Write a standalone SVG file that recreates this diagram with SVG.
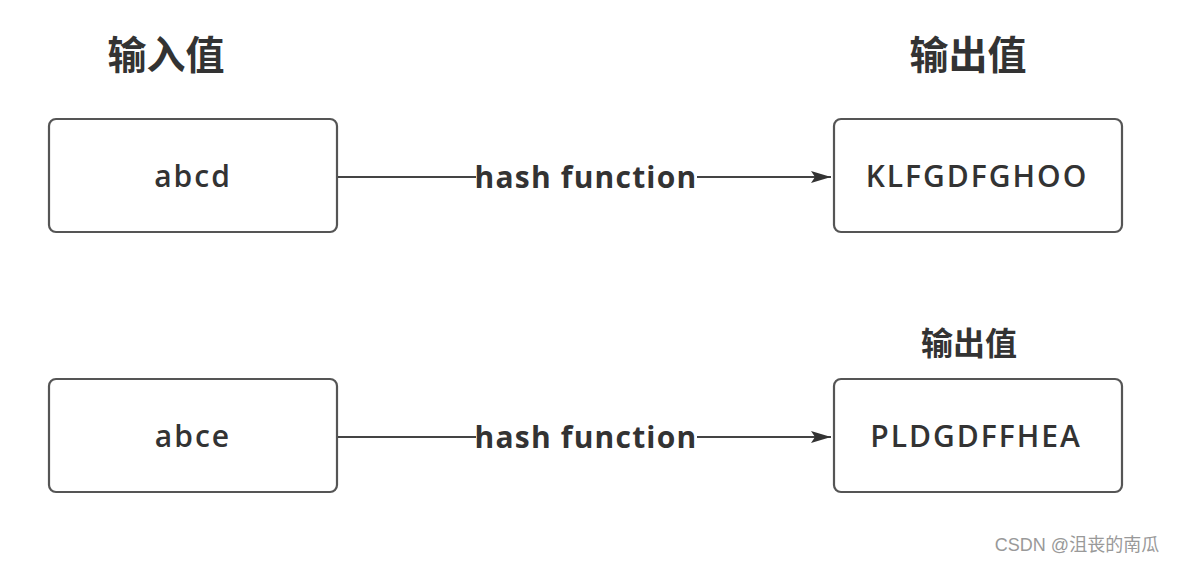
<svg xmlns="http://www.w3.org/2000/svg" width="1178" height="563" viewBox="0 0 1178 563">
<defs>
<style>
.box{fill:#fff;stroke:#555;stroke-width:2.2}
.lbl{font-family:"Open Sans","Noto Sans","Noto Sans CJK SC",sans-serif;font-weight:600;fill:#333;text-anchor:middle;font-size:30px;letter-spacing:2px}
.fn{font-family:"Open Sans","Noto Sans",sans-serif;font-weight:700;fill:#333;text-anchor:middle;font-size:30px;letter-spacing:1.2px}
.title{font-family:"Noto Sans CJK SC",sans-serif;font-weight:700;fill:#333;text-anchor:middle}
.conn{stroke:#444;stroke-width:1.8;fill:none}
</style>
<marker id="arr" viewBox="0 0 20 12" refX="20" refY="6" markerWidth="20" markerHeight="12" markerUnits="userSpaceOnUse" orient="auto">
<path d="M0,0 L20,6 L0,12 L4,6 z" fill="#333"/>
</marker>
</defs>
<rect width="1178" height="563" fill="#fff"/>
<g id="title-in"><text class="title" x="166" y="69" font-size="39">输入值</text></g>
<g id="title-out"><text class="title" x="968" y="69" font-size="39">输出值</text></g>
<g id="title-out2"><text class="title" x="969" y="355" font-size="32" font-weight="600">输出值</text></g>
<g id="in1"><rect class="box" x="49" y="119" width="288" height="113" rx="7"/><text class="lbl" x="193" y="187">abcd</text></g>
<g id="in2"><rect class="box" x="49" y="379" width="288" height="113" rx="7"/><text class="lbl" x="193" y="447">abce</text></g>
<g id="out1"><rect class="box" x="834" y="119" width="288" height="113" rx="7"/><text class="lbl" x="977" y="187">KLFGDFGHOO</text></g>
<g id="out2"><rect class="box" x="834" y="379" width="288" height="113" rx="7"/><text class="lbl" x="976" y="447">PLDGDFFHEA</text></g>
<g id="connectors">
<path class="conn" d="M338,177 H476"/>
<path class="conn" d="M697,177 H831" marker-end="url(#arr)"/>
<text class="fn" x="586" y="188">hash function</text>
<path class="conn" d="M338,437 H476"/>
<path class="conn" d="M697,437 H831" marker-end="url(#arr)"/>
<text class="fn" x="586" y="448">hash function</text>
</g>
<text x="1077" y="551" font-family="'Liberation Sans','Noto Sans CJK SC',sans-serif" font-size="18" fill="#999" text-anchor="middle">CSDN @沮丧的南瓜</text>
</svg>
